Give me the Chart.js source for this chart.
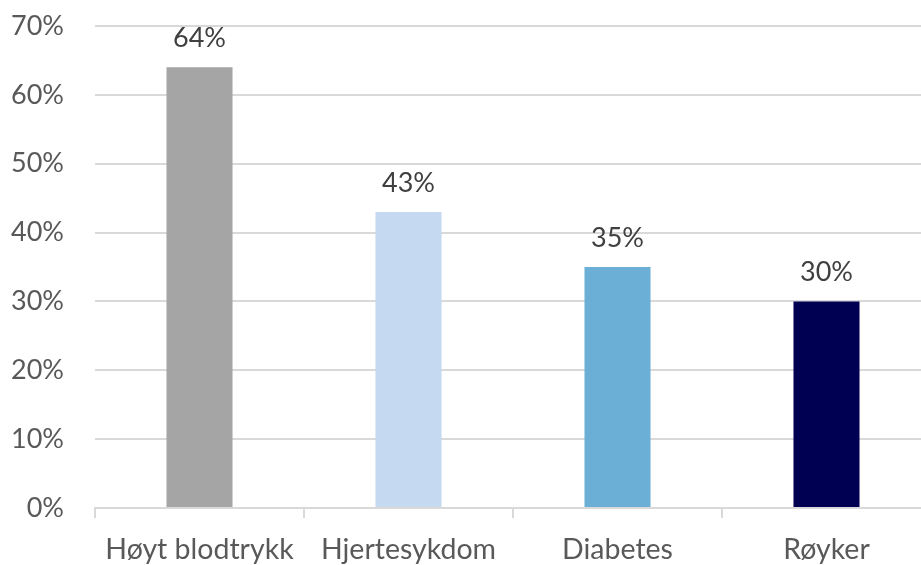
<!DOCTYPE html>
<html>
<head>
<meta charset="utf-8">
<script src="https://cdn.jsdelivr.net/npm/chart.js@4.4.0/dist/chart.umd.js"></script>
<style>
  html, body { margin: 0; padding: 0; background: #fff; overflow: hidden; }
  #wrap { position: relative; width: 931px; height: 565px; }
</style>
</head>
<body>
<div id="wrap"><canvas id="chart"></canvas></div>
<script>
// Data
const categories = ['Høyt blodtrykk', 'Hjertesykdom', 'Diabetes', 'Røyker'];
const values = [64, 43, 35, 30];
const barColors = ['#A5A5A5', '#C5D9F0', '#6BAED6', '#000052'];
const yMax = 70;
const yStep = 10;

// Draw value labels above bars
const valueLabels = {
    id: 'valueLabels',
    afterDatasetsDraw(chart) {
        const ctx = chart.ctx;
        const meta = chart.getDatasetMeta(0);
        ctx.save();
        ctx.font = '27px Lato';
        ctx.fillStyle = '#404040';
        ctx.textAlign = 'center';
        ctx.textBaseline = 'alphabetic';
        meta.data.forEach((bar, i) => {
            ctx.fillText(values[i] + '%', bar.x, bar.y - 20);
        });
        ctx.restore();
    }
};

const ctx = document.getElementById('chart');

new Chart(ctx, {
    type: 'bar',
    data: {
        labels: categories,
        datasets: [{
            data: values,
            backgroundColor: barColors,
            categoryPercentage: 1.0,
            barPercentage: 0.316,
        }]
    },
    options: {
        responsive: true,
        maintainAspectRatio: false,
        animation: false,
        layout: {
            padding: { top: 0, right: 0, bottom: 0, left: 0 }
        },
        plugins: {
            legend: { display: false },
            tooltip: { enabled: false }
        },
        scales: {
            x: {
                grid: {
                    offset: true,
                    drawOnChartArea: false,
                    drawTicks: true,
                    tickLength: 10,
                    color: '#D9D9D9',
                    lineWidth: 2
                },
                border: { color: '#D9D9D9', width: 2 },
                ticks: {
                    color: '#595959',
                    font: { family: 'Lato', size: 28.5 },
                    padding: 15,
                    maxRotation: 0,
                    autoSkip: false
                },
                afterFit(scale) { scale.height = 57; }
            },
            y: {
                min: 0,
                max: yMax,
                grid: {
                    color: '#D9D9D9',
                    lineWidth: 2,
                    drawTicks: false
                },
                border: { display: false },
                ticks: {
                    stepSize: yStep,
                    color: '#595959',
                    font: { family: 'Lato', size: 27 },
                    padding: 31,
                    callback: v => v + '%'
                },
                afterFit(scale) {
                    scale.width = 95;
                    scale.paddingTop = 26;
                }
            }
        }
    },
    plugins: [valueLabels]
});
</script>
</body>
</html>
